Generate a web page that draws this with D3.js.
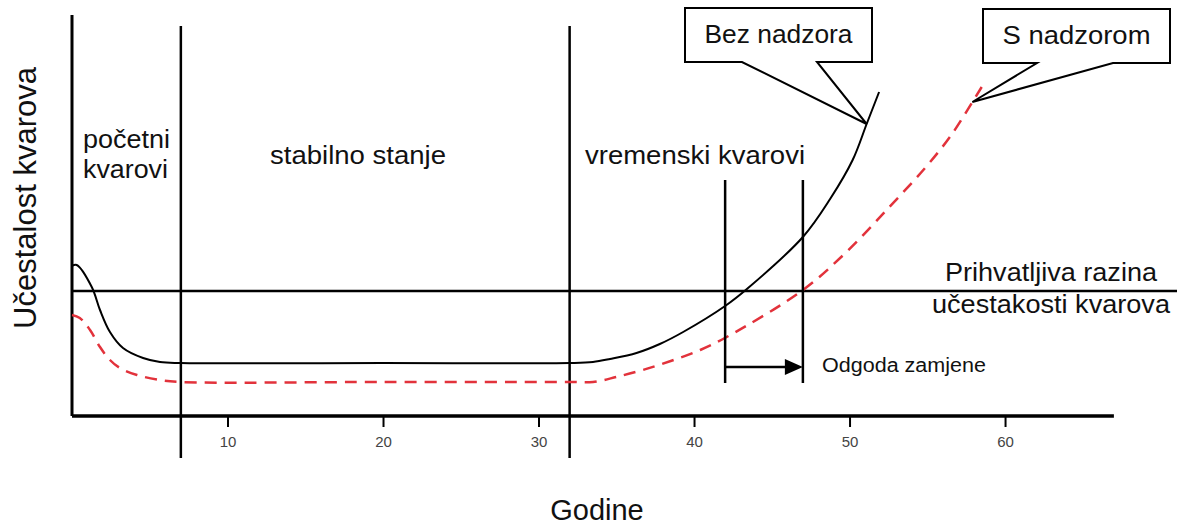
<!DOCTYPE html>
<html>
<head>
<meta charset="utf-8">
<script src="https://cdn.jsdelivr.net/npm/d3@7"></script>
<style>
  body { margin: 0; background: #fff; }
  svg { display: block; font-family: "Liberation Sans", Arial, sans-serif; }
</style>
</head>
<body>
<svg id="chart" width="1177" height="527"></svg>
<script>
// ---- data ----
const xTicks = [10, 20, 30, 40, 50, 60];
const bezYears  = [0, 0.3, 1.27, 1.8, 2.44, 3.28, 4.57, 5.66, 7, 20, 32, 33.5, 34.6, 36.3, 37.8, 39.3, 42, 43.4, 47, 48.75, 50.2, 51.1, 51.9];
const bezValues = [150, 151, 129, 106, 84, 68, 58, 54, 53, 53, 53, 54, 57, 63, 72, 84, 110, 127, 179, 217, 256, 292, 324];
const sYears  = [0, 0.5, 1.16, 1.8, 2.44, 3.08, 4.18, 5.66, 7, 20, 32, 33.5, 35.0, 36.7, 38.5, 40.4, 42.1, 47.0, 49.8, 52.5, 54.8, 56.5, 57.9, 58.5];
const sValues = [101, 98, 86, 69, 56, 48, 41, 36, 34, 34, 34, 34, 39, 46, 55, 66, 79, 126, 164, 208, 247, 280, 314, 329];
const acceptableLevel = 125;
const phaseBounds = [7, 32];
const phaseLabels = [["početni", "kvarovi"], ["stabilno stanje"], ["vremenski kvarovi"]];
const delayYears = [42, 47];
const seriesLabels = ["Bez nadzora", "S nadzorom"];
const seriesTips = [[51.1, 292], [57.9, 314]];
const levelLabel = ["Prihvatljiva razina", "učestakosti kvarova"];
const delayLabel = "Odgoda zamjene";
const xTitle = "Godine";
const yTitle = "Učestalost kvarova";

// ---- scales ----
const svg = d3.select("#chart");
const x = d3.scaleLinear().domain([0, 67]).range([72, 1113.9]);
const y = d3.scaleLinear().domain([0, 401]).range([416, 15]);
const RED = "#e2323b";

// axes lines
svg.append("line").attr("x1", x(0)).attr("x2", x(0)).attr("y1", y(401)).attr("y2", y(0))
  .attr("stroke", "#000").attr("stroke-width", 3);
const xAxis = d3.axisBottom(x).tickValues(xTicks).tickSize(11).tickFormat(d3.format("d"));
const gx = svg.append("g").attr("transform", `translate(0,${y(0)})`).call(xAxis);
gx.select(".domain").attr("stroke", "#000").attr("stroke-width", 3.5).attr("d", `M${x(0)},0H${x(67)}`);
gx.selectAll(".tick line").attr("stroke", "#000").attr("stroke-width", 2);
gx.selectAll(".tick text").attr("fill", "#444").attr("font-size", 15)
  .attr("font-family", "'Liberation Sans Narrow','Liberation Sans',Arial,sans-serif").attr("dy", "1.1em");

// acceptable level
svg.append("line").attr("x1", x(0)).attr("x2", 1177).attr("y1", y(acceptableLevel)).attr("y2", y(acceptableLevel))
  .attr("stroke", "#000").attr("stroke-width", 2.5);

// phase boundaries
phaseBounds.forEach(b => {
  svg.append("line").attr("x1", x(b)).attr("x2", x(b)).attr("y1", y(390)).attr("y2", y(-42))
    .attr("stroke", "#000").attr("stroke-width", 2.5);
});

// stretched text helper
function stext(g, px, py, str, size, len, anchor) {
  return g.append("text").attr("x", px).attr("y", py).attr("font-size", size)
    .attr("text-anchor", anchor || "start").attr("fill", "#111")
    .attr("textLength", len).attr("lengthAdjust", "spacingAndGlyphs").text(str);
}

// phase labels
const lbl = svg.append("g");
stext(lbl, 83, 148, phaseLabels[0][0], 25, 87);
stext(lbl, 83, 178, phaseLabels[0][1], 25, 85);
stext(lbl, 270, 164, phaseLabels[1][0], 25, 176);
stext(lbl, 585, 164, phaseLabels[2][0], 25, 220);

// curves
const line = d3.line().x(d => x(d[0])).y(d => y(d[1])).curve(d3.curveCatmullRom.alpha(0.5));
svg.append("path").datum(sYears.map((t, i) => [t, sValues[i]])).attr("d", line)
  .attr("fill", "none").attr("stroke", RED).attr("stroke-width", 2.5).attr("stroke-dasharray", "12,8");
svg.append("path").datum(bezYears.map((t, i) => [t, bezValues[i]])).attr("d", line)
  .attr("fill", "none").attr("stroke", "#000").attr("stroke-width", 2);

// delay lines and arrow
delayYears.forEach(t => {
  svg.append("line").attr("x1", x(t)).attr("x2", x(t)).attr("y1", y(236)).attr("y2", y(33))
    .attr("stroke", "#000").attr("stroke-width", 2.5);
});
const ay = y(49);
svg.append("line").attr("x1", x(delayYears[0])).attr("x2", x(delayYears[1]) - 16).attr("y1", ay).attr("y2", ay)
  .attr("stroke", "#000").attr("stroke-width", 2.5);
svg.append("path").attr("d", `M${x(delayYears[1])},${ay}L${x(delayYears[1]) - 18},${ay - 8}L${x(delayYears[1]) - 18},${ay + 8}Z`)
  .attr("fill", "#000");
stext(svg, 822, 372, delayLabel, 20, 164);

// level label
stext(svg, 1157, 281, levelLabel[0], 26, 212, "end");
stext(svg, 1170, 313, levelLabel[1], 26, 238, "end");

// callouts
const boxes = [
  { l: 685, t: 8, r: 872, b: 62, p1: 742, p2: 817 },
  { l: 983, t: 9, r: 1170, b: 63, p1: 1037, p2: 1113 }
];
boxes.forEach((bx, i) => {
  const tx = x(seriesTips[i][0]), ty = y(seriesTips[i][1]);
  svg.append("path")
    .attr("d", `M${bx.l},${bx.t}H${bx.r}V${bx.b}H${bx.p2}L${tx},${ty}L${bx.p1},${bx.b}H${bx.l}Z`)
    .attr("fill", "#fff").attr("stroke", "#000").attr("stroke-width", 2).attr("stroke-linejoin", "miter");
  stext(svg, (bx.l + bx.r) / 2, bx.t + 35, seriesLabels[i], 25, 148, "middle");
});

// axis titles
svg.append("text").attr("x", 597).attr("y", 520).attr("text-anchor", "middle").attr("font-size", 29)
  .attr("fill", "#111").text(xTitle);
svg.append("text").attr("transform", "translate(36,198) rotate(-90)").attr("text-anchor", "middle")
  .attr("font-size", 31).attr("fill", "#111").text(yTitle);
</script>
</body>
</html>
